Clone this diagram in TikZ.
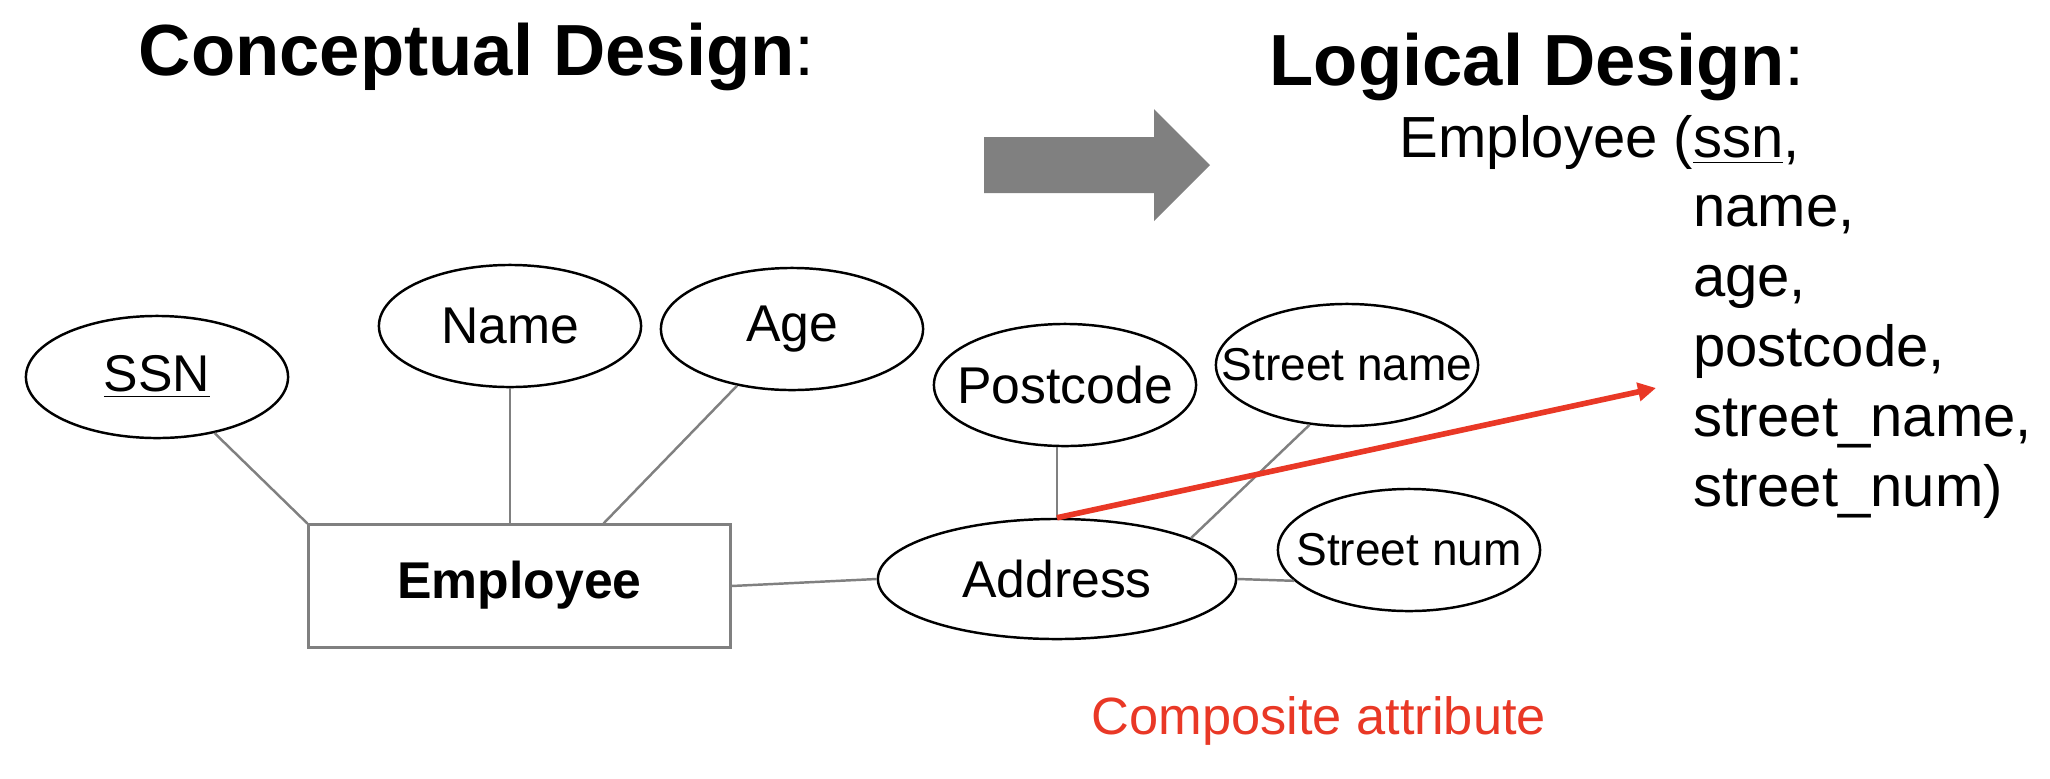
\documentclass[tikz,border=0pt]{standalone}
\usepackage{fontspec}
\setmainfont{Liberation Sans}
\usetikzlibrary{shapes.geometric,arrows.meta}
\definecolor{notered}{RGB}{233,56,38}
\definecolor{linkgray}{RGB}{128,128,128}

\begin{document}
\begin{tikzpicture}[x=0.01cm,y=-0.01cm,
  attr/.style={draw,ellipse,line width=0.7pt,inner sep=0pt,minimum width=2.62cm,minimum height=1.22cm,font=\fontsize{14.7}{17}\selectfont},
  smallattr/.style={attr,font=\fontsize{13.1}{15}\selectfont},
  entity/.style={draw=linkgray,line width=0.85pt,minimum width=4.21cm,minimum height=1.22cm,text height=0.73em,text depth=0em,font=\fontsize{14.7}{17}\selectfont\bfseries},
  link/.style={draw=linkgray,line width=0.7pt},
  title/.style={anchor=base west,inner sep=0pt,font=\fontsize{20.6}{24}\selectfont}]
  \useasboundingbox (0,0) rectangle (2050,778);

  % Headings
  \node[title] (concept) at (138,75) {{\bfseries Conceptual Design}:};
  \node[title] (logical) at (1269,85) {{\bfseries Logical Design}:};

  % Big arrow between the two designs
  \fill[linkgray] (984,137) -- (1154,137) -- (1154,109) -- (1210,165) -- (1154,221) -- (1154,193) -- (984,193) -- cycle;

  % Entity and its attributes
  \node[entity] (emp) at (519.5,586) {Employee};
  \node[attr] (ssn) at (157,377) {\makebox[0pt]{\underline{SSN}}};
  \node[attr] (name) at (510,326) {\makebox[0pt]{Name}};
  \node[attr] (age) at (792,329) {\makebox[0pt]{Age}};
  \node[attr,minimum width=3.58cm,minimum height=1.2cm] (addr) at (1057,579) {\makebox[0pt]{Address}};
  \node[attr] (post) at (1065,385) {\makebox[0pt]{Postcode}};
  \node[smallattr] (sname) at (1347,365) {\makebox[0pt]{Street name}};
  \node[smallattr] (snum) at (1409,550) {\makebox[0pt]{Street num}};

  \draw[link] (ssn) -- (emp.north west);
  \draw[link] (name) -- (name |- emp.north);
  \draw[link] (age) -- ([xshift=0.84cm]emp.north);
  \draw[link] (emp.east) -- (addr.west);
  \draw[link] (addr.north |- post.south) -- (addr.north);
  \draw[link] (sname.238) -- (addr.17);
  \draw[link] (addr.east) -- (snum.195);

  % Relation schema
  \node[anchor=base west,inner sep=0pt,font=\fontsize{16.5}{19.9}\selectfont] (rel) at (1399,157)
    {\begin{tabular}[t]{@{}r@{}l@{}}Employee (&\underline{ssn},\\ &name,\\ &age,\\ &postcode,\\ &street\_name,\\ &street\_num)\end{tabular}};

  % Composite attribute flattened
  \coordinate (tgt) at (1656,388);
  \draw[notered,line width=1.6pt,-{Triangle[length=0.18cm,width=0.18cm]}] (addr.north) -- (tgt);
  \node[anchor=base west,inner sep=0pt,text=notered,font=\fontsize{14.9}{17}\selectfont] (note) at (1091,734) {Composite attribute};
\end{tikzpicture}
\end{document}
